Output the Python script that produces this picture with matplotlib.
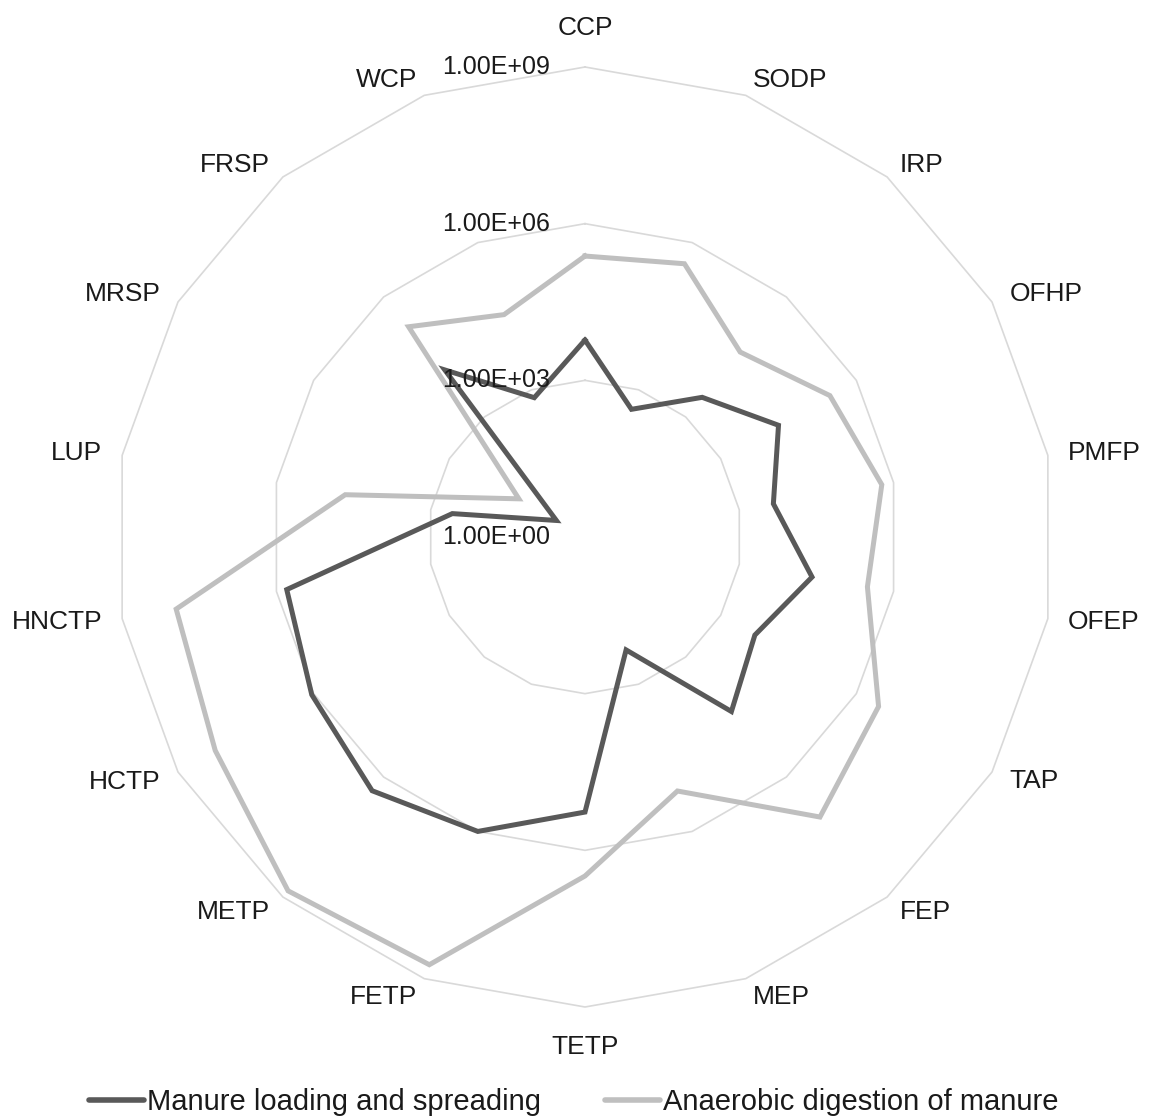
import numpy as np
import matplotlib.pyplot as plt
from matplotlib.lines import Line2D

plt.rcParams['font.family'] = ['Liberation Sans', 'DejaVu Sans']

# Impact categories, clockwise from the top
categories = ['CCP', 'SODP', 'IRP', 'OFHP', 'PMFP', 'OFEP', 'TAP', 'FEP', 'MEP',
              'TETP', 'FETP', 'METP', 'HCTP', 'HNCTP', 'LUP', 'MRSP', 'FRSP', 'WCP']

# Manure loading and spreading
loading_spreading = [5.9e3, 4.0e2, 3.1e3, 1.9e4, 4.6e3, 2.6e4, 5.7e3, 2.3e4, 2.0e2,
                     1.85e5, 1.0e6, 2.2e6, 1.1e6, 6.3e5, 3.8e2, 4.3e0, 1.5e4, 6.9e2]

# Anaerobic digestion of manure
anaerobic_digestion = [2.4e5, 3.7e5, 4.2e4, 2.6e5, 5.9e5, 3.1e5, 3.1e6, 1.0e7, 1.5e5,
                       3.1e6, 5.2e8, 7.0e8, 1.5e8, 8.9e7, 4.6e4, 2.9e1, 1.8e5, 3.4e4]

ring_values = [1e0, 1e3, 1e6, 1e9]

dark = '#595959'
light = '#bfbfbf'
grid_color = '#d9d9d9'
text_color = '#1a1a1a'

n = len(categories)
theta = np.arange(n) * 2 * np.pi / n
theta_closed = np.append(theta, theta[0])

fig = plt.figure(figsize=(11.52, 11.19), dpi=100)
ax = fig.add_axes([115 / 1152, 112 / 1119, 940 / 1152, 940 / 1119], projection='polar')
ax.set_theta_zero_location('N')
ax.set_theta_direction(-1)
ax.set_rscale('log')
ax.set_rlim(ring_values[0], ring_values[-1])
ax.grid(False)
ax.set_xticks([])
ax.set_yticks([])
ax.spines['polar'].set_visible(False)

# polygon gridlines
for v in ring_values[1:]:
    ax.plot(theta_closed, [v] * (n + 1), color=grid_color, lw=1.2, clip_on=False, zorder=1)

# data series
ax.plot(theta_closed, loading_spreading + loading_spreading[:1], color=dark, lw=3.6,
        solid_joinstyle='miter', clip_on=False, zorder=3)
ax.plot(theta_closed, anaerobic_digestion + anaerobic_digestion[:1], color=light, lw=3.6,
        solid_joinstyle='miter', clip_on=False, zorder=2)

# radial axis labels along the top spoke
for v in ring_values:
    ax.annotate(f'{v:.2E}', xy=(0, v), xytext=(-35, 0), textcoords='offset pixels',
                ha='right', va='center', fontsize=18, color=text_color, zorder=4,
                annotation_clip=False)

# category labels around the outer ring
for t, name in zip(theta, categories):
    s, c = np.sin(t), np.cos(t)
    if abs(s) < 1e-6:
        if c > 0:
            ax.annotate(name, xy=(t, ring_values[-1]), xytext=(0, 32), textcoords='offset pixels',
                        ha='center', va='baseline', fontsize=19, color=text_color,
                        annotation_clip=False)
        else:
            ax.annotate(name, xy=(t, ring_values[-1]), xytext=(0, -28), textcoords='offset pixels',
                        ha='center', va='top', fontsize=19, color=text_color,
                        annotation_clip=False)
        continue
    dx = 20 * s
    dy = 16 * c if c >= 0 else 19 * c
    ax.annotate(name, xy=(t, ring_values[-1]), xytext=(dx, dy), textcoords='offset pixels',
                ha='left' if s > 0 else 'right', va='center', fontsize=19, color=text_color,
                annotation_clip=False)

handles = [Line2D([], [], color=dark, lw=4, solid_capstyle='round'),
           Line2D([], [], color=light, lw=4, solid_capstyle='round')]
fig.legend(handles, ['Manure loading and spreading', 'Anaerobic digestion of manure'],
           loc='center', bbox_to_anchor=(0.498, 1 - 1102 / 1119), ncol=2, frameon=False,
           fontsize=21, handlelength=1.9, handletextpad=0.1, columnspacing=2.2,
           borderpad=0, labelcolor=text_color)

fig.savefig('out.png', dpi=100)
